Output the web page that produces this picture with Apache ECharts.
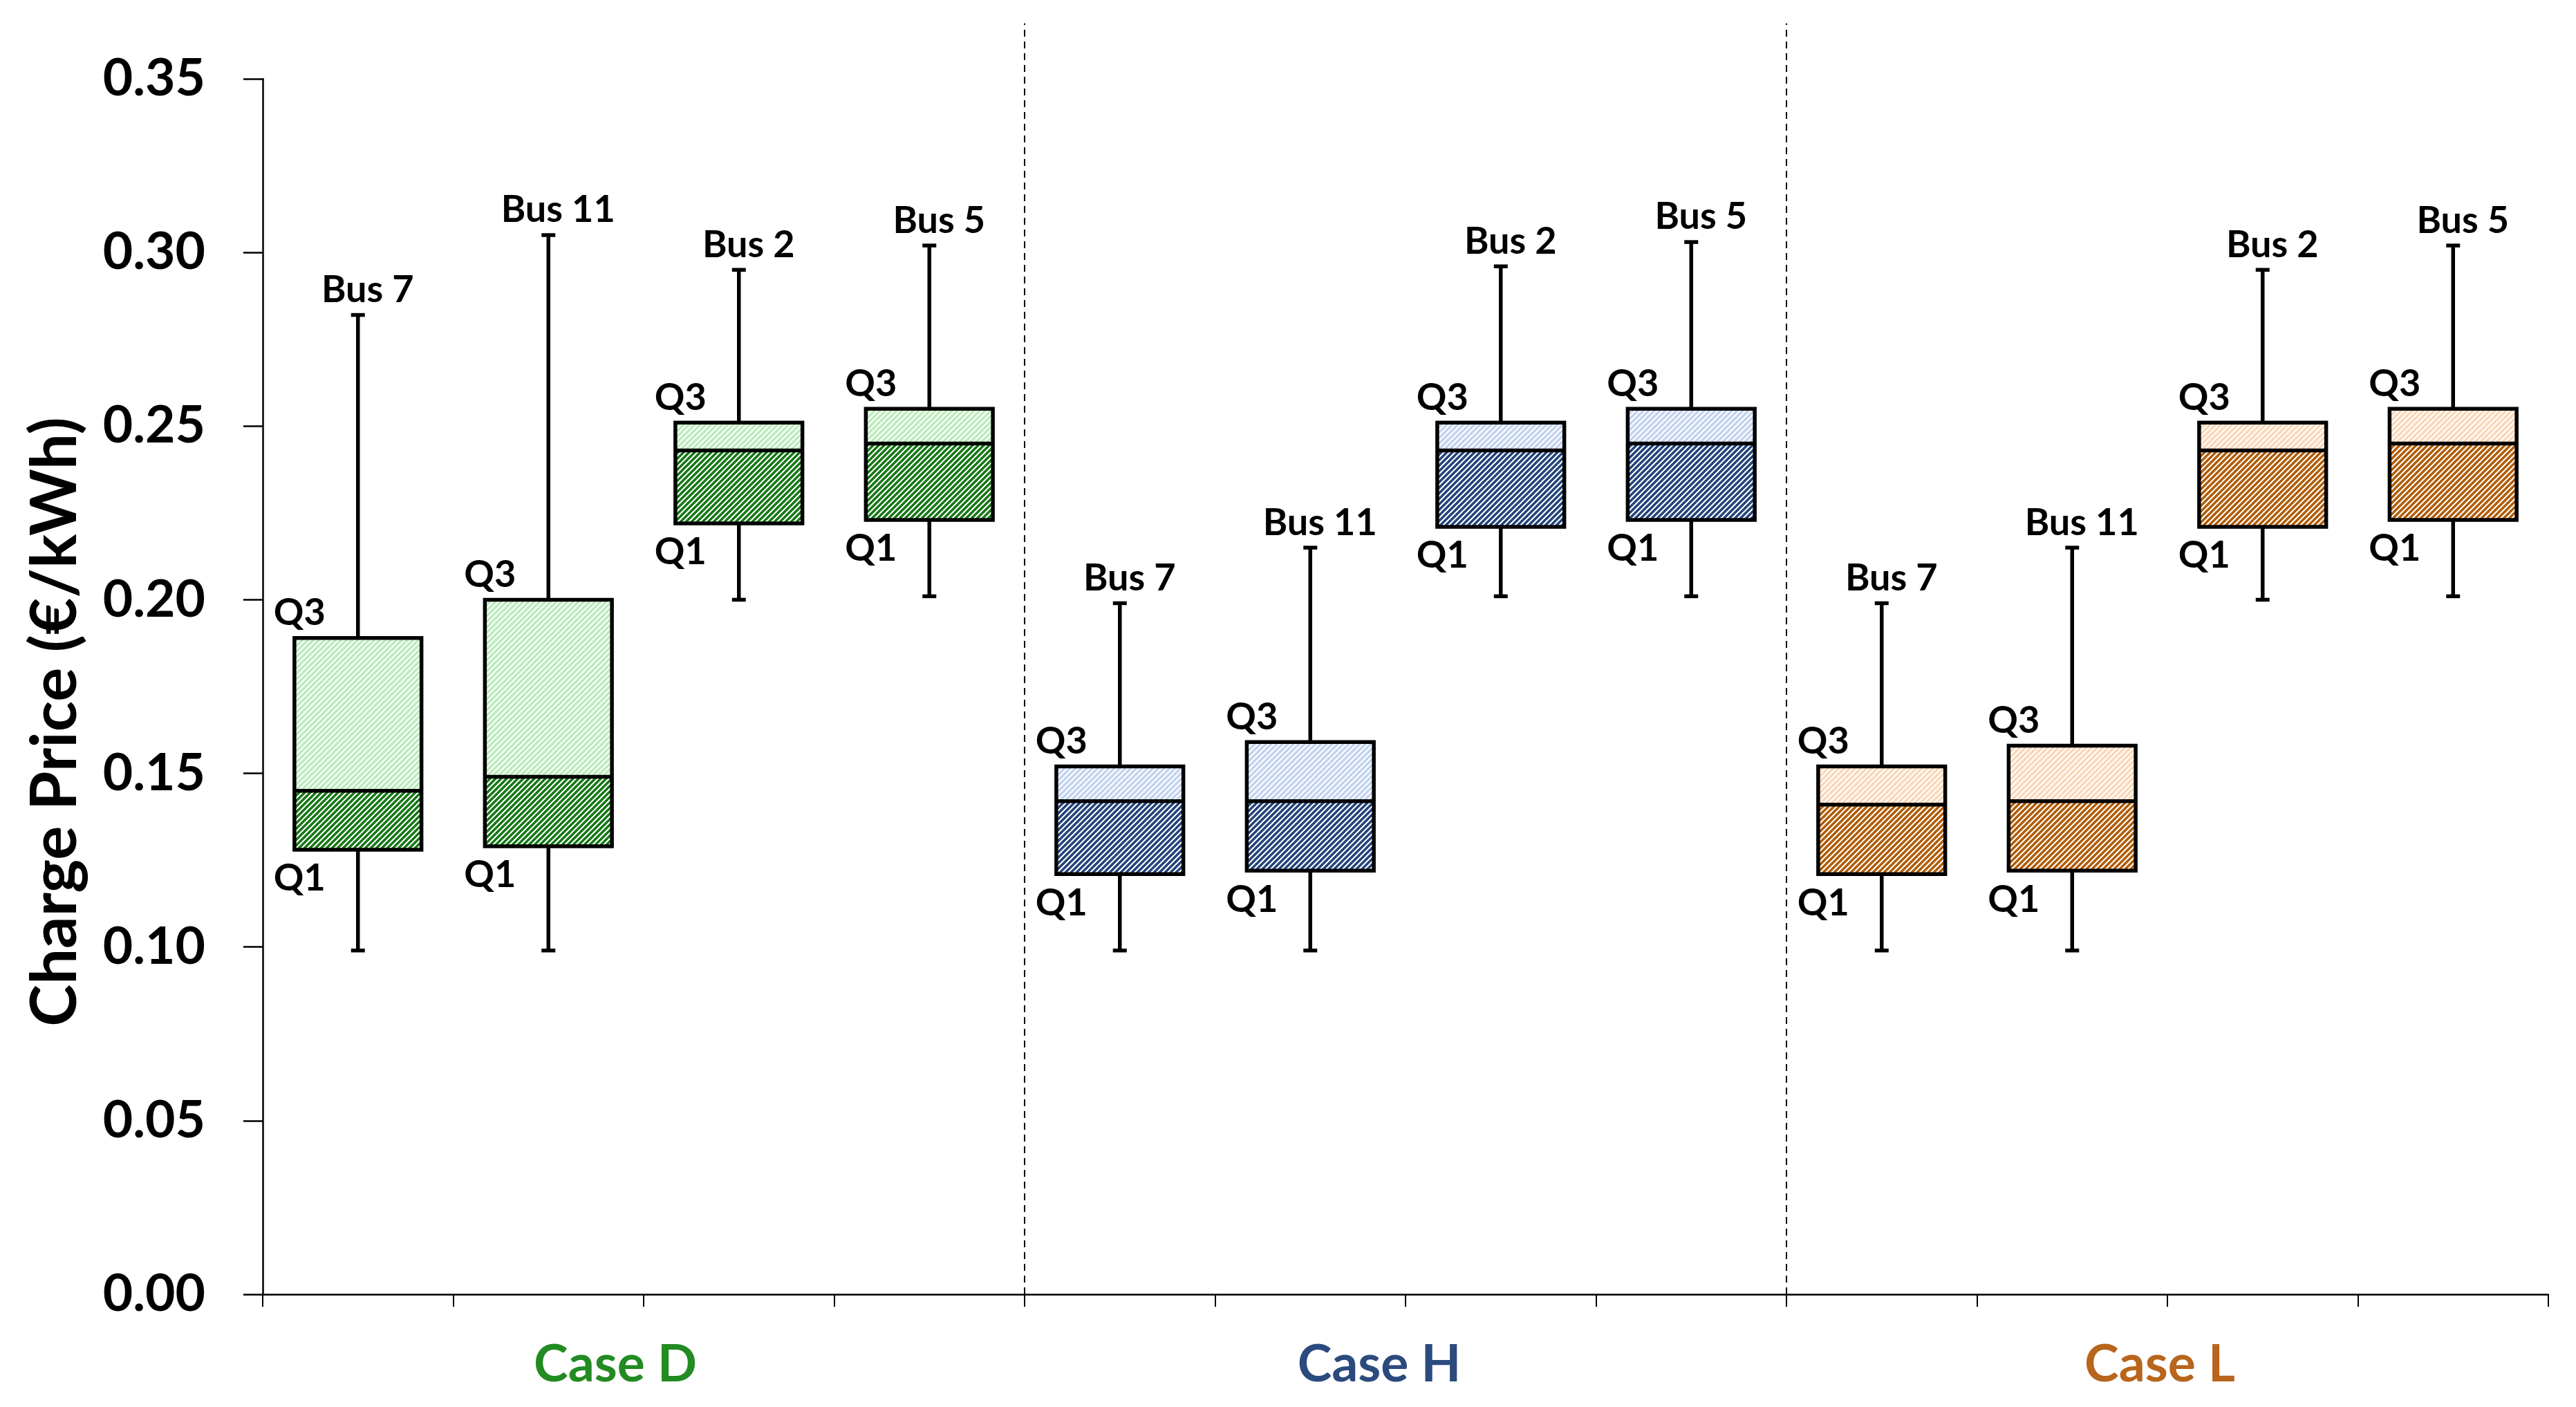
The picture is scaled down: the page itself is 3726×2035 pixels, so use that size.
<!DOCTYPE html>
<html><head><meta charset="utf-8">
<script src="https://cdn.jsdelivr.net/npm/echarts@6/dist/echarts.min.js"></script>
<style>html,body{margin:0;padding:0;background:#fff}#c{width:3726px;height:2035px}</style>
</head><body><div id="c"></div>
<script>
// ---- data ----
const cases = ['Case D', 'Case H', 'Case L'];
const buses = ['Bus 7', 'Bus 11', 'Bus 2', 'Bus 5'];
const yTickLabels = ['0.00', '0.05', '0.10', '0.15', '0.20', '0.25', '0.30', '0.35'];
// order: Case D (Bus 7, 11, 2, 5), Case H (...), Case L (...)
const minVals = [0.099, 0.099, 0.200, 0.201, 0.099, 0.099, 0.201, 0.201, 0.099, 0.099, 0.200, 0.201];
const q1Vals  = [0.128, 0.129, 0.222, 0.223, 0.121, 0.122, 0.221, 0.223, 0.121, 0.122, 0.221, 0.223];
const medVals = [0.145, 0.149, 0.243, 0.245, 0.142, 0.142, 0.243, 0.245, 0.141, 0.142, 0.243, 0.245];
const q3Vals  = [0.189, 0.200, 0.251, 0.255, 0.152, 0.159, 0.251, 0.255, 0.152, 0.158, 0.251, 0.255];
const maxVals = [0.282, 0.305, 0.295, 0.302, 0.199, 0.215, 0.296, 0.303, 0.199, 0.215, 0.295, 0.302];
const separatorAfter = [3, 7];
const separatorTop = 0.366;

// ---- styling ----
const FONT = 'Lato';
const caseColors = ['#228b22', '#2b4a7e', '#b8651d'];
const darkHatch = ['#1a7a1a', '#28477d', '#b35f0d'];
const lightHatch = ['#bdecbd', '#c4d4ef', '#fbd8ba'];

function hatch(color) {
  const n = 8;
  const cv = document.createElement('canvas');
  cv.width = n; cv.height = n;
  const ctx = cv.getContext('2d');
  ctx.fillStyle = '#ffffff';
  ctx.fillRect(0, 0, n, n);
  ctx.fillStyle = color;
  for (let x = 0; x < n; x++) for (let y = 0; y < n; y++) {
    if ((x + y) % n < 5) ctx.fillRect(x, y, 1, 1);
  }
  return { image: cv, repeat: 'repeat' };
}
const darkPat = darkHatch.map(hatch);
const lightPat = lightHatch.map(hatch);

const categories = [];
const busLabels = [];
cases.forEach(c => buses.forEach(b => { categories.push(c + ' ' + b); busLabels.push(b); }));
const boxData = categories.map((_, i) => [i, minVals[i], q1Vals[i], medVals[i], q3Vals[i], maxVals[i]]);
const sepData = separatorAfter.map(i => [i, separatorTop]);

const chart = echarts.init(document.getElementById('c'), null, { renderer: 'canvas' });
const LW = 5.5;

function renderBox(params, api) {
  const i = api.value(0);
  const g = Math.floor(i / 4);
  const band = api.size([1, 0])[0];
  const half = band * 0.667 / 2;
  const cx = api.coord([i, 0])[0];
  const yMin = api.coord([i, api.value(1)])[1];
  const yQ1 = api.coord([i, api.value(2)])[1];
  const yMed = api.coord([i, api.value(3)])[1];
  const yQ3 = api.coord([i, api.value(4)])[1];
  const yMax = api.coord([i, api.value(5)])[1];
  const capW = 20;
  const line = (x1, y1, x2, y2) => ({ type: 'line', shape: { x1, y1, x2, y2 }, style: { stroke: '#000', lineWidth: LW } });
  const txt = (text, x, y, align) => ({ type: 'text', x, y, style: { text, fill: '#000', font: 'bold 54px ' + FONT, align, verticalAlign: 'middle' } });
  return {
    type: 'group',
    children: [
      { type: 'rect', shape: { x: cx - half, y: yMed, width: 2 * half, height: yQ1 - yMed }, style: { fill: darkPat[g] } },
      { type: 'rect', shape: { x: cx - half, y: yQ3, width: 2 * half, height: yMed - yQ3 }, style: { fill: lightPat[g] } },
      line(cx, yQ3, cx, yMax),
      line(cx, yQ1, cx, yMin),
      line(cx - capW / 2, yMax, cx + capW / 2, yMax),
      line(cx - capW / 2, yMin, cx + capW / 2, yMin),
      line(cx - half, yMed, cx + half, yMed),
      { type: 'rect', shape: { x: cx - half, y: yQ3, width: 2 * half, height: yQ1 - yQ3 }, style: { fill: 'none', stroke: '#000', lineWidth: LW } },
      txt(busLabels[i], cx + 14, yMax - 36, 'center'),
      txt('Q3', cx - half - 30, yQ3 - 36, 'left'),
      txt('Q1', cx - half - 30, yQ1 + 42, 'left')
    ]
  };
}

function renderSep(params, api) {
  const i = api.value(0);
  const band = api.size([1, 0])[0];
  const x = api.coord([i, 0])[0] + band / 2;
  const y0 = api.coord([i, 0])[1];
  const y1 = api.coord([i, api.value(1)])[1];
  return { type: 'line', shape: { x1: x, y1: y0, x2: x, y2: y1 }, style: { stroke: '#000', lineWidth: 2, lineDash: [10, 7] } };
}

const option = {
  backgroundColor: '#ffffff',
  animation: false,
  grid: { left: 380, right: 40, top: 114, bottom: 163, containLabel: false },
  xAxis: [
    {
      type: 'category', data: categories, boundaryGap: true,
      axisLine: { lineStyle: { color: '#000', width: 2.5 } },
      axisTick: { show: true, length: 18, lineStyle: { color: '#000', width: 2 } },
      axisLabel: { show: false },
      splitLine: { show: false }
    },
    {
      type: 'category', data: cases, position: 'bottom', gridIndex: 0,
      axisLine: { show: false }, axisTick: { show: false }, splitLine: { show: false },
      axisLabel: {
        margin: 64,
        formatter: (v, idx) => '{c' + idx + '|' + v + '}',
        rich: {
          c0: { color: caseColors[0], fontSize: 75, fontWeight: 'bold', fontFamily: FONT, padding: [0, 82, 0, 0] },
          c1: { color: caseColors[1], fontSize: 75, fontWeight: 'bold', fontFamily: FONT, padding: [0, 76, 0, 0] },
          c2: { color: caseColors[2], fontSize: 75, fontWeight: 'bold', fontFamily: FONT, padding: [0, 22, 0, 0] }
        }
      }
    }
  ],
  yAxis: {
    type: 'value', min: 0, max: 0.35, interval: 0.05,
    name: 'Charge Price (€/kWh)', nameLocation: 'middle', nameGap: 254, nameRotate: 90,
    nameTextStyle: { fontSize: 92, fontWeight: 'bold', fontFamily: FONT, color: '#000', padding: [0, 102, 0, 0] },
    axisLine: { show: true, lineStyle: { color: '#000', width: 2.5 } },
    axisTick: { show: true, length: 28, lineStyle: { color: '#000', width: 2.5 } },
    axisLabel: { margin: 83, fontSize: 75, fontWeight: 'bold', fontFamily: FONT, color: '#000',
      formatter: (v) => yTickLabels[Math.round(v / 0.05)] },
    splitLine: { show: false }
  },
  series: [
    { type: 'custom', xAxisIndex: 0, renderItem: renderSep, data: sepData, clip: false, z: 1 },
    { type: 'custom', xAxisIndex: 0, renderItem: renderBox, data: boxData, clip: false, z: 2,
      encode: { x: 0, y: [1, 2, 3, 4, 5] } }
  ]
};
chart.setOption(option);
</script></body></html>
